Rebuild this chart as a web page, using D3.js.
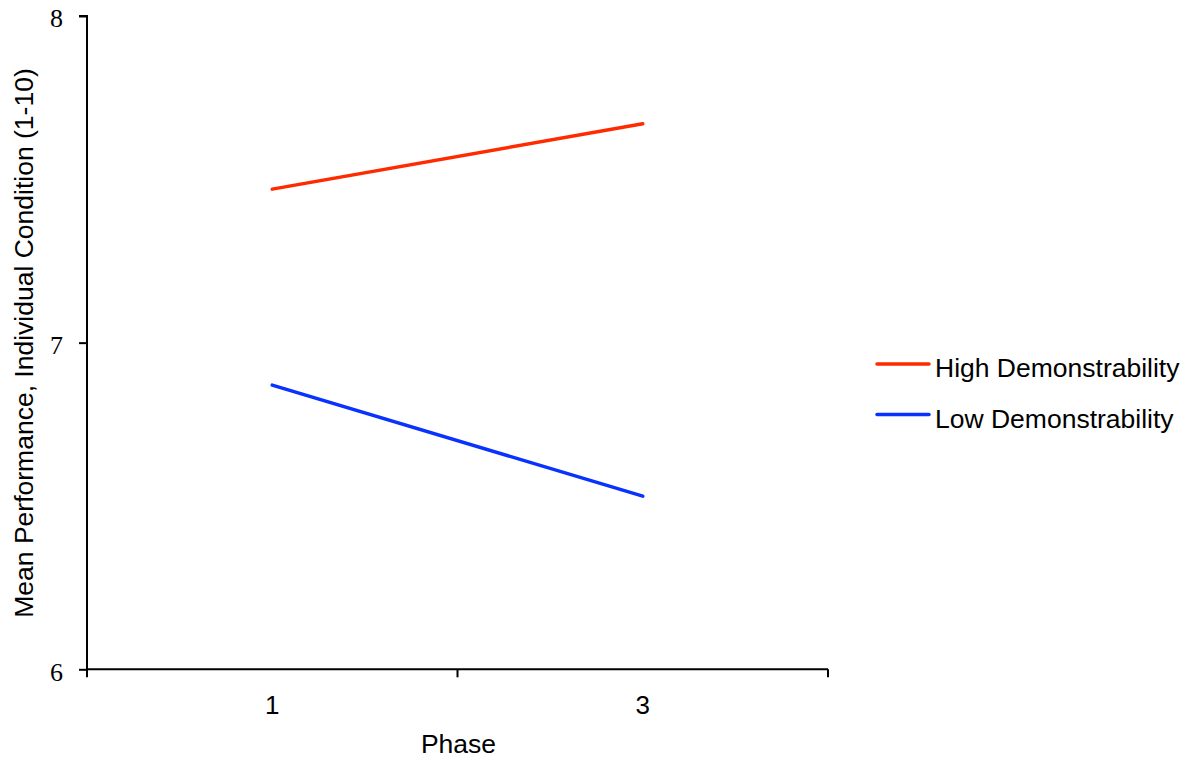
<!DOCTYPE html>
<head>
  <meta charset="utf-8">
  <script src="https://d3js.org/d3.v7.min.js"></script>
  <style>
    body { margin: 0; background: #fff; }
    svg { display: block; }
  </style>
</head>

<body>
  <svg width="1188" height="763"></svg>
  <script>
    // data
    var phases = ["1", "3"];
    var highDemo = [7.47, 7.67];
    var lowDemo = [6.87, 6.53];
    var yTicks = [6, 7, 8];
    var seriesNames = ["High Demonstrability", "Low Demonstrability"];
    var seriesColors = ["#ff2a00", "#0a32ff"];

    // options
    var plotLeft = 87, plotRight = 828, plotTop = 16, plotBottom = 669.3;
    var sans = "Liberation Sans, Arial, sans-serif";
    var serif = "Liberation Serif, Times New Roman, serif";

    // scales
    var x = d3.scaleBand()
      .domain(phases)
      .range([plotLeft, plotRight]);
    var y = d3.scaleLinear()
      .domain([6, 8])
      .range([plotBottom, plotTop]);

    var svg = d3.select("svg");

    // axes
    var yAxis = d3.axisLeft(y)
      .tickValues(yTicks)
      .tickSize(8)
      .tickPadding(16)
      .tickFormat(d3.format("d"));
    var gy = svg.append("g")
      .attr("transform", "translate(" + plotLeft + ",0)")
      .call(yAxis);
    gy.selectAll("text").style("font-family", serif).style("font-size", "26px").attr("dy", "0.42em");

    var xAxis = d3.axisBottom(x)
      .tickSize(0)
      .tickPadding(26);
    var gx = svg.append("g")
      .attr("transform", "translate(0," + plotBottom + ")")
      .call(xAxis);
    gx.selectAll("text").style("font-family", sans).style("font-size", "26px");

    // tick marks at the category boundaries
    var edges = phases.map(function(d) { return x(d); }).concat([x.range()[1]]);
    gx.selectAll(".edge")
      .data(edges)
      .enter().append("line")
      .attr("class", "edge")
      .attr("x1", function(d) { return d; })
      .attr("x2", function(d) { return d; })
      .attr("y1", 0)
      .attr("y2", 8);

    svg.selectAll(".domain, .tick line, .edge").attr("stroke", "#000").attr("stroke-width", 2);
    gy.select(".domain").attr("d", "M-8," + plotTop + "H0V" + plotBottom);
    gx.select(".domain").attr("d", "M" + plotLeft + ",0H" + plotRight);

    // axis titles
    svg.append("text")
      .attr("x", (plotLeft + plotRight) / 2 + 1)
      .attr("y", 753)
      .attr("text-anchor", "middle")
      .style("font-family", sans)
      .style("font-size", "26.5px")
      .text("Phase");
    svg.append("text")
      .attr("transform", "translate(33,343) rotate(-90)")
      .attr("text-anchor", "middle")
      .style("font-family", sans)
      .style("font-size", "26.5px")
      .text("Mean Performance, Individual Condition (1-10)");

    // lines
    var line = d3.line()
      .x(function(d, i) { return x(phases[i]) + x.bandwidth() / 2; })
      .y(function(d) { return y(d); });
    [highDemo, lowDemo].forEach(function(s, i) {
      svg.append("path")
        .datum(s)
        .attr("d", line)
        .attr("fill", "none")
        .attr("stroke", seriesColors[i])
        .attr("stroke-width", 3.5)
        .attr("stroke-linecap", "round");
    });

    // legend
    var legend = svg.selectAll(".legend")
      .data(seriesNames)
      .enter().append("g")
      .attr("class", "legend")
      .attr("transform", function(d, i) { return "translate(877," + (364 + i * 50.5) + ")"; });
    legend.append("line")
      .attr("x1", 0).attr("x2", 52)
      .attr("stroke", function(d, i) { return seriesColors[i]; })
      .attr("stroke-width", 3.5)
      .attr("stroke-linecap", "round");
    legend.append("text")
      .attr("x", 58)
      .attr("y", 13)
      .style("font-family", sans)
      .style("font-size", "26.5px")
      .text(function(d) { return d; });
  </script>
</body>
</html>
